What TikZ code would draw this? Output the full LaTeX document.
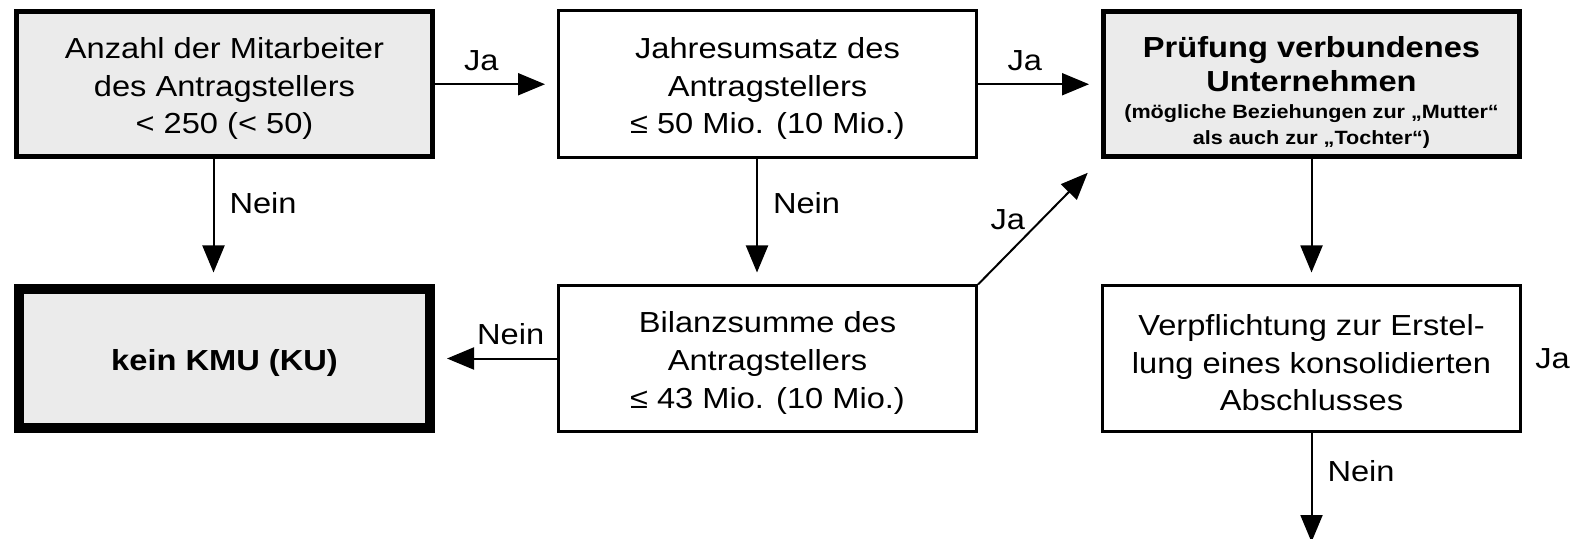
\documentclass[tikz,border=0pt]{standalone}
\usepackage{fontspec}
\setmainfont{Liberation Sans}[FakeStretch=1.125]
\usetikzlibrary{arrows.meta}
\definecolor{boxgray}{RGB}{235,235,235}
\newcommand\topgap[1][15pt]{\rule{0pt}{#1}}
\begin{document}
\begin{tikzpicture}[x=0.5pt,y=-0.5pt,
  box/.style={rectangle, draw=black, align=center, inner sep=0pt,
    font=\fontsize{14.5}{18.75}\selectfont},
  thinbox/.style={box, line width=1.5pt, minimum width=209pt, fill=white},
  thickbox/.style={box, line width=2.5pt, minimum width=208pt, fill=boxgray},
  heavybox/.style={box, line width=5pt, minimum width=205.5pt, fill=boxgray},
  arr/.style={-{Triangle[length=13.5pt,width=11pt]}, line width=1pt, shorten >=6pt},
  lab/.style={inner sep=0pt, font=\fontsize{14.5}{17}\selectfont}
]
\useasboundingbox (0,0) rectangle (1572,539);

\node[thickbox, minimum height=72.5pt] (A) at (224.5,84.25)
  {\topgap Anzahl der Mitarbeiter\\des Antragstellers\\< 250 (< 50)};
\node[thinbox, minimum height=73.5pt] (B) at (767.5,84.25)
  {\topgap Jahresumsatz des\\Antragstellers\\≤ 50 Mio. (10 Mio.)};
\node[thickbox, minimum height=72.5pt, font=\bfseries\fontsize{14.5}{17}\selectfont] (C) at (1311.5,84.25)
  {\topgap[19pt]Prüfung verbundenes\\Unternehmen\\[-3.7pt]{\fontsize{9.6}{13}\selectfont (mögliche Beziehungen zur „Mutter“}\\[-3.7pt]{\fontsize{9.6}{13}\selectfont als auch zur „Tochter“)}};
\node[heavybox, minimum height=69pt, font=\bfseries\fontsize{14.5}{18.75}\selectfont] (D) at (224.5,358.5)
  {\topgap kein KMU (KU)};
\node[thinbox, minimum height=72.5pt] (E) at (767.5,358.5)
  {\topgap Bilanzsumme des\\Antragstellers\\≤ 43 Mio. (10 Mio.)};
\node[thinbox, minimum height=72.5pt] (F) at (1311.5,358.5)
  {\topgap Verpflichtung zur Erstel-\\lung eines konsolidierten\\Abschlusses};

\coordinate (out) at (1311.5,542);

\draw[arr] (A) -- (B) node[lab, pos=0.38, above=6pt] {Ja};
\draw[arr] (B) -- (C) node[lab, pos=0.38, above=6pt] {Ja};
\draw[arr] ([xshift=-5.5pt]A.south) -- ([xshift=-5.5pt]D.north)
  node[lab, pos=0.35, anchor=west, xshift=7.5pt] {Nein};
\draw[arr] ([xshift=-5.25pt]B.south) -- ([xshift=-5.25pt]E.north)
  node[lab, pos=0.35, anchor=west, xshift=7.5pt] {Nein};
\draw[arr] (E) -- (D) node[lab, pos=0.38, above=6.5pt] {Nein};
\draw[arr, shorten >=9.5pt] (E.north east) -- (C.south west)
  node[lab, pos=0.52, anchor=east, xshift=-8pt] {Ja};
\draw[arr] (C) -- (F);
\draw[arr, shorten >=0pt] (F) -- (out) node[lab, pos=0.35, anchor=west, xshift=7.5pt] {Nein};
\node[lab, anchor=west, xshift=6.5pt] (jaF) at (F.east) {Ja};
\end{tikzpicture}
\end{document}
